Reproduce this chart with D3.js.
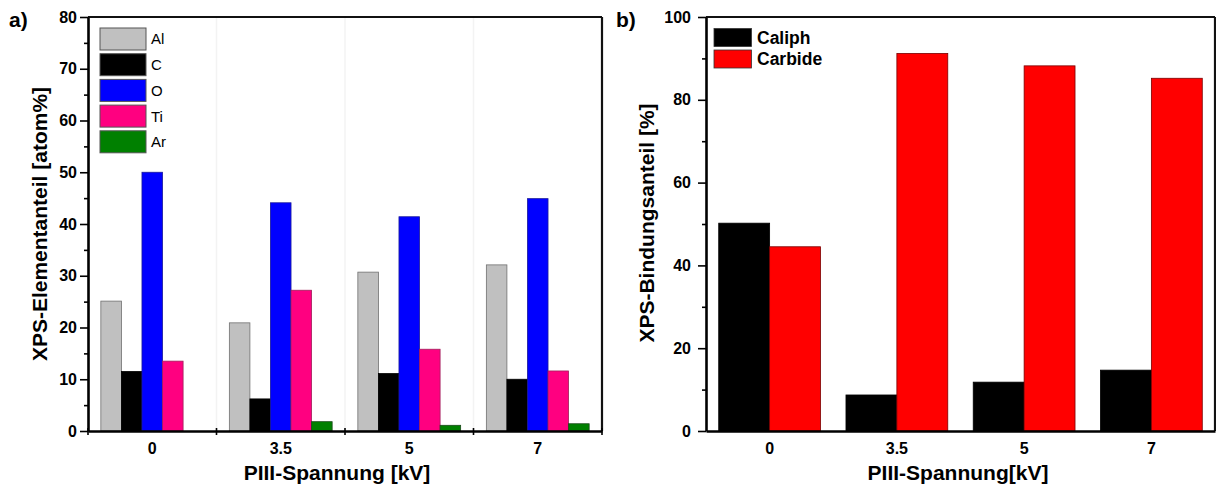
<!DOCTYPE html>
<html><head><meta charset="utf-8">
<script src="https://cdn.jsdelivr.net/npm/d3@7"></script>
<style>
body{margin:0;background:#fff}
svg{display:block}
text{font-family:"Liberation Sans",Arial,sans-serif;fill:#000}
</style>
</head><body><svg id="c" width="1216" height="486"></svg>
<script>
// ---------- data ----------
const voltages = ["0", "3.5", "5", "7"];
const elements = ["Al", "C", "O", "Ti", "Ar"];
const alValues = [25.1, 20.9, 30.7, 32.1];
const cValues = [11.5, 6.2, 11.1, 10.0];
const oValues = [50.0, 44.1, 41.4, 44.9];
const tiValues = [13.5, 27.2, 15.8, 11.6];
const arValues = [0.0, 1.8, 1.1, 1.4];
const bondTypes = ["Caliph", "Carbide"];
const caliphValues = [50.2, 8.7, 11.8, 14.7];
const carbideValues = [44.5, 91.2, 88.2, 85.2];
const yTicksA = [0, 10, 20, 30, 40, 50, 60, 70, 80];
const yMinorA = [5, 15, 25, 35, 45, 55, 65, 75];
const yTicksB = [0, 20, 40, 60, 80, 100];
const yMinorB = [10, 30, 50, 70, 90];
const titleA = "XPS-Elementanteil [atom%]";
const titleB = "XPS-Bindungsanteil [%]";
const xTitleA = "PIII-Spannung [kV]";
const xTitleB = "PIII-Spannung[kV]";

// ---------- styles ----------
const elementColors = {Al: "#c0c0c0", C: "#000000", O: "#0000ff", Ti: "#ff0080", Ar: "#008000"};
const elementStroke = {Al: "#707070", C: "#000000", O: "#1a1a9a", Ti: "#a0205a", Ar: "#1a4a1a"};
const bondColors = {Caliph: "#000000", Carbide: "#ff0000"};

const svg = d3.select("#c");

function panel(opts) {
  const {left, right, top, bottom, yMax, ticks, minor, tickPad, series, valueArrays, colors, strokes, xBoundaryTicks, grid} = opts;
  const g = svg.append("g");
  const x = d3.scaleBand().domain(voltages).range([left, right]).padding(0);
  const xi = d3.scaleBand().domain(series).range([x.bandwidth() * 0.1, x.bandwidth() * 0.9]).padding(0);
  const y = d3.scaleLinear().domain([0, yMax]).range([bottom, top]);

  if (grid) {
    g.selectAll(".gl").data(voltages.slice(1)).enter().append("line")
      .attr("x1", d => x(d)).attr("x2", d => x(d))
      .attr("y1", top).attr("y2", bottom)
      .attr("stroke", "#f3f3f3").attr("stroke-width", 1.5);
  }

  series.forEach((s, si) => {
    g.selectAll(".b" + si).data(voltages).enter().append("rect")
      .attr("x", d => x(d) + xi(s))
      .attr("width", xi.bandwidth())
      .attr("y", (d, i) => y(valueArrays[si][i]))
      .attr("height", (d, i) => y(0) - y(valueArrays[si][i]))
      .attr("fill", colors[s])
      .attr("stroke", strokes[s]).attr("stroke-width", 0.8);
  });

  g.append("line").attr("x1", left).attr("x2", right).attr("y1", top).attr("y2", top)
    .attr("stroke", "#111").attr("stroke-width", 2.2);
  g.append("line").attr("x1", right).attr("x2", right).attr("y1", top).attr("y2", bottom)
    .attr("stroke", "#111").attr("stroke-width", 2.2);

  const ya = g.append("g").attr("transform", `translate(${left},0)`)
    .call(d3.axisLeft(y).tickValues(ticks).tickSize(8).tickSizeOuter(0).tickPadding(tickPad).tickFormat(d3.format("d")));
  ya.select(".domain").attr("stroke", "#000").attr("stroke-width", 2.6);
  ya.selectAll(".tick line").attr("stroke", "#000").attr("stroke-width", 1.6);
  ya.selectAll(".tick text").attr("font-size", 16).attr("font-weight", "bold")
    .attr("font-family", '"Liberation Sans",Arial,sans-serif').attr("fill", "#000");
  const ym = g.append("g").attr("transform", `translate(${left},0)`)
    .call(d3.axisLeft(y).tickValues(minor).tickSize(4).tickSizeOuter(0).tickFormat(""));
  ym.select(".domain").remove();
  ym.selectAll(".tick line").attr("stroke", "#000").attr("stroke-width", 1.6);

  const xa = g.append("g").attr("transform", `translate(0,${bottom})`)
    .call(d3.axisBottom(x).tickSize(0).tickSizeOuter(0).tickPadding(12));
  xa.select(".domain").attr("stroke", "#000").attr("stroke-width", 2.6);
  xa.selectAll(".tick text").attr("font-size", 16).attr("font-weight", "bold")
    .attr("font-family", '"Liberation Sans",Arial,sans-serif').attr("fill", "#000");
  if (xBoundaryTicks) {
    g.selectAll(".xt").data(voltages.slice(1).concat(["end0", "end1"])).enter().append("line")
      .attr("x1", d => d === "end0" ? left : d === "end1" ? right : x(d))
      .attr("x2", d => d === "end0" ? left : d === "end1" ? right : x(d))
      .attr("y1", bottom - 3).attr("y2", bottom + 4)
      .attr("stroke", "#000").attr("stroke-width", 1.6);
  }
  return {x, y, g};
}

const A = panel({left: 88, right: 602, top: 17, bottom: 431, yMax: 80,
  ticks: yTicksA, minor: yMinorA, tickPad: 3,
  series: elements, valueArrays: [alValues, cValues, oValues, tiValues, arValues],
  colors: elementColors, strokes: elementStroke, xBoundaryTicks: true, grid: true});

const B = panel({left: 706, right: 1215, top: 17, bottom: 431, yMax: 100,
  ticks: yTicksB, minor: yMinorB, tickPad: 7,
  series: bondTypes, valueArrays: [caliphValues, carbideValues],
  colors: bondColors, strokes: {Caliph: "#000", Carbide: "#7a0000"}, xBoundaryTicks: false, grid: false});

const legA = svg.append("g");
elements.forEach((e, i) => {
  legA.append("rect").attr("x", 100).attr("y", 28 + i * 25.7).attr("width", 46).attr("height", 22)
    .attr("fill", elementColors[e]).attr("stroke", "#555").attr("stroke-width", 1);
  legA.append("text").attr("x", 151).attr("y", 28 + i * 25.7 + 11).attr("dy", "0.36em")
    .attr("font-size", 15).text(e);
});
const legB = svg.append("g");
bondTypes.forEach((b, i) => {
  legB.append("rect").attr("x", 714).attr("y", 28.5 + i * 21.5).attr("width", 37.5).attr("height", 18)
    .attr("fill", bondColors[b]).attr("stroke", "#333").attr("stroke-width", 0.8);
  legB.append("text").attr("x", 757).attr("y", 28.5 + i * 21.5 + 9).attr("dy", "0.36em")
    .attr("font-size", 17.5).attr("font-weight", "bold").text(b);
});

svg.append("text").attr("transform", "translate(47,224) rotate(-90)").attr("text-anchor", "middle")
  .attr("font-size", 21).attr("font-weight", "bold").text(titleA);
svg.append("text").attr("transform", "translate(654,223) rotate(-90)").attr("text-anchor", "middle")
  .attr("font-size", 21).attr("font-weight", "bold").text(titleB);
svg.append("text").attr("x", 337).attr("y", 480).attr("text-anchor", "middle")
  .attr("font-size", 21).attr("font-weight", "bold").text(xTitleA);
svg.append("text").attr("x", 958).attr("y", 480).attr("text-anchor", "middle")
  .attr("font-size", 21).attr("font-weight", "bold").text(xTitleB);
svg.append("text").attr("x", 9).attr("y", 27).attr("font-size", 21).attr("font-weight", "bold").text("a)");
svg.append("text").attr("x", 616).attr("y", 27).attr("font-size", 21).attr("font-weight", "bold").text("b)");
</script>
</body></html>
